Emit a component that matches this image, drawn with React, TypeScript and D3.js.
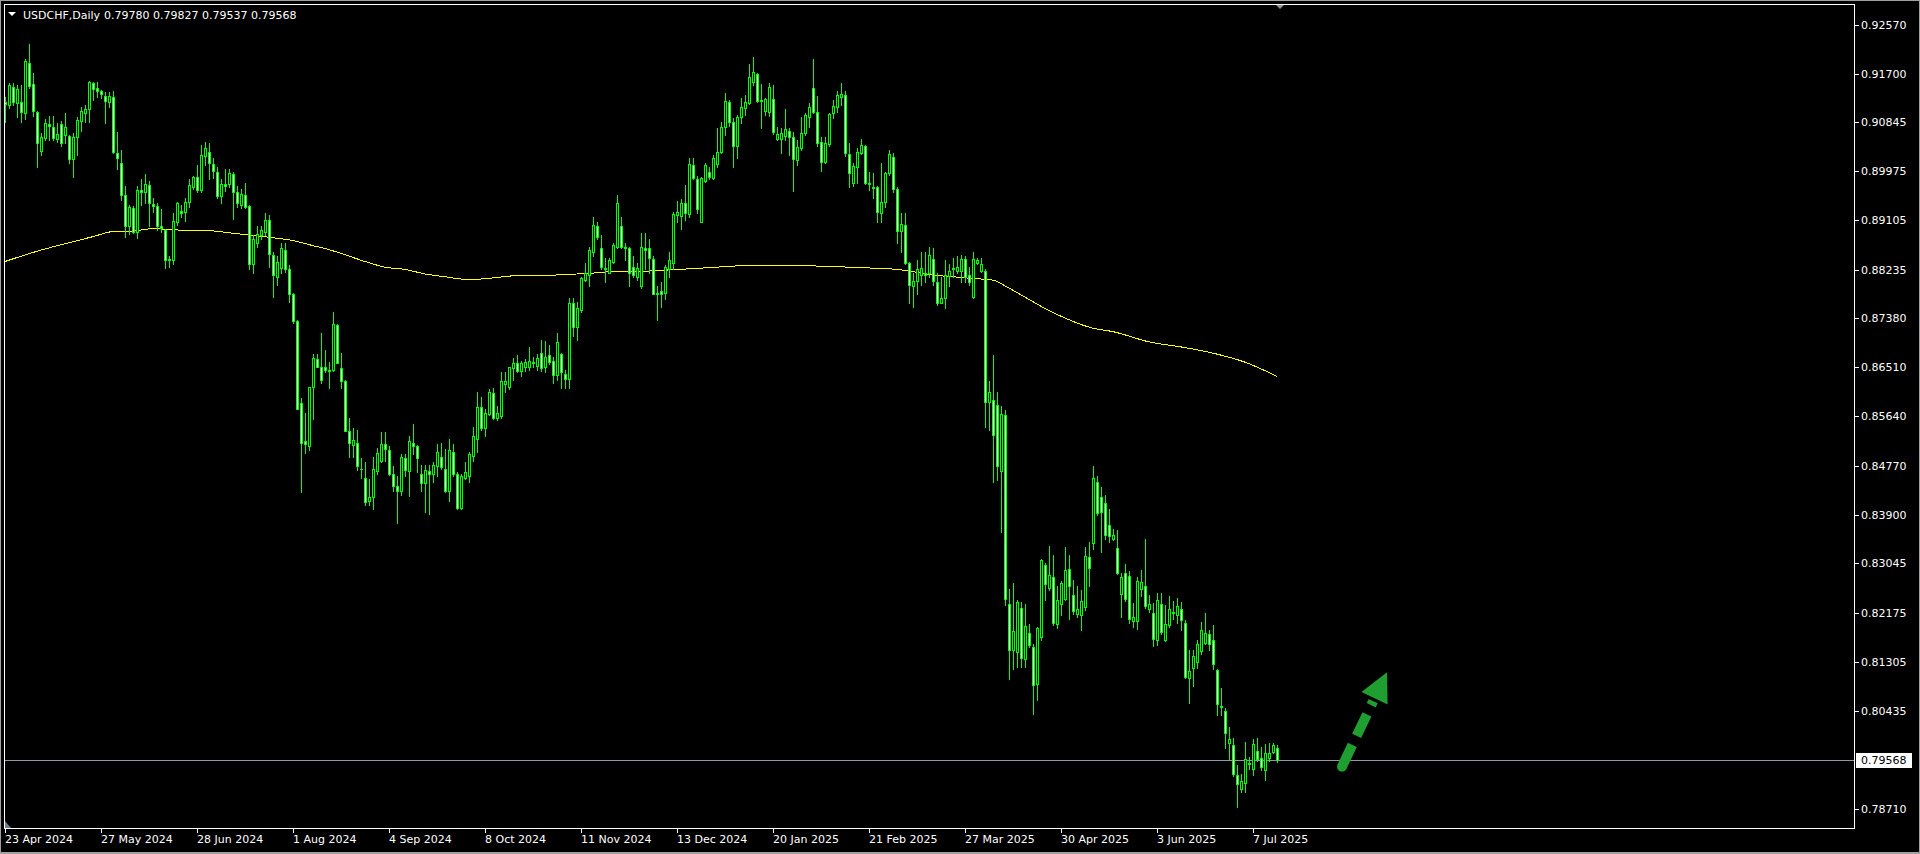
import React from "react";
import * as d3 from "d3";

const symbolTitle = "USDCHF,Daily";
const lastQuote = ["0.79780", "0.79827", "0.79537", "0.79568"];

const opens = [
0.9120,0.9115,0.9147,0.9118,0.9120,0.9101,0.9189,0.9152,0.9103,0.9034,
0.9057,0.9081,0.9076,0.9055,0.9081,0.9062,0.9060,0.9020,0.9058,0.9087,
0.9101,0.9108,0.9154,0.9145,0.9140,0.9131,0.9120,0.9129,0.9030,0.9013,
0.8956,0.8900,0.8933,0.8891,0.8965,0.8960,0.8974,0.8940,0.8937,0.8900,
0.8894,0.8843,0.8840,0.8908,0.8928,0.8926,0.8944,0.8970,0.8988,0.8965,
0.9025,0.9032,0.9011,0.8997,0.8953,0.8975,0.8975,0.8993,0.8960,0.8938,
0.8956,0.8937,0.8833,0.8871,0.8885,0.8891,0.8912,0.8850,0.8811,0.8827,
0.8859,0.8825,0.8780,0.8732,0.8587,0.8520,0.8511,0.8617,0.8665,0.8652,
0.8651,0.8647,0.8647,0.8725,0.8649,0.8626,0.8538,0.8513,0.8518,0.8472,
0.8456,0.8414,0.8421,0.8467,0.8486,0.8515,0.8504,0.8462,0.8441,0.8433,
0.8490,0.8467,0.8518,0.8511,0.8463,0.8446,0.8467,0.8462,0.8476,0.8493,
0.8472,0.8432,0.8501,0.8462,0.8403,0.8456,0.8458,0.8495,0.8525,0.8580,
0.8543,0.8569,0.8605,0.8561,0.8564,0.8621,0.8617,0.8649,0.8659,0.8645,
0.8652,0.8652,0.8661,0.8654,0.8677,0.8651,0.8672,0.8663,0.8638,0.8674,
0.8640,0.8631,0.8764,0.8723,0.8753,0.8806,0.8815,0.8854,0.8901,0.8861,
0.8827,0.8818,0.8838,0.8864,0.8901,0.8864,0.8862,0.8829,0.8811,0.8794,
0.8862,0.8861,0.8843,0.8783,0.8785,0.8783,0.8825,0.8836,0.8921,0.8919,
0.8942,0.8922,0.9009,0.8983,0.8908,0.8981,0.8997,0.8986,0.9011,0.9032,
0.9076,0.9120,0.9085,0.9043,0.9094,0.9110,0.9118,0.9156,0.9170,0.9124,
0.9104,0.9103,0.9126,0.9055,0.9055,0.9060,0.9069,0.9058,0.9018,0.9039,
0.9066,0.9094,0.9145,0.9103,0.9050,0.9014,0.9046,0.9101,0.9111,0.9129,
0.9133,0.9028,0.8977,0.9005,0.9030,0.9043,0.8977,0.8970,0.8970,0.8924,
0.8944,0.8995,0.9023,0.8967,0.8892,0.8903,0.8836,0.8794,0.8804,0.8815,
0.8818,0.8818,0.8843,0.8802,0.8765,0.8774,0.8813,0.8827,0.8822,0.8822,
0.8843,0.8815,0.8776,0.8836,0.8822,0.8822,0.8589,0.8594,0.8585,0.8467,
0.8566,0.8232,0.8151,0.8147,0.8225,0.8135,0.8181,0.8156,0.8091,0.8174,
0.8301,0.8260,0.8280,0.8197,0.8232,0.8241,0.8294,0.8248,0.8215,0.8213,
0.8227,0.8315,0.8340,0.8449,0.8421,0.8411,0.8373,0.8347,0.8331,0.8250,
0.8287,0.8282,0.8202,0.8202,0.8259,0.8264,0.8223,0.8216,0.8169,0.8232,
0.8169,0.8195,0.8218,0.8213,0.8223,0.8199,0.8102,0.8119,0.8130,0.8149,
0.8163,0.8179,0.8169,0.8116,0.8052,0.8043,0.7987,0.7983,0.7930,0.7906,
0.7916,0.7950,0.7941,0.7973,0.7960,0.7939,0.7960,0.7971,0.79780
];

const highs = [
0.9129,0.9154,0.9154,0.9150,0.9150,0.9196,0.9223,0.9171,0.9104,0.9066,
0.9090,0.9096,0.9096,0.9083,0.9087,0.9101,0.9062,0.9066,0.9094,0.9111,
0.9115,0.9157,0.9156,0.9156,0.9141,0.9138,0.9138,0.9140,0.9067,0.9035,
0.8972,0.8938,0.8937,0.8972,0.8983,0.8993,0.8981,0.8951,0.8942,0.8931,
0.8896,0.8847,0.8924,0.8944,0.8938,0.8951,0.8983,0.8990,0.9009,0.9044,
0.9050,0.9048,0.9021,0.9005,0.8984,0.9002,0.9002,0.8997,0.8972,0.8967,
0.8977,0.8938,0.8885,0.8900,0.8901,0.8924,0.8921,0.8854,0.8847,0.8871,
0.8871,0.8831,0.8783,0.8734,0.8596,0.8571,0.8617,0.8674,0.8674,0.8712,
0.8681,0.8661,0.8748,0.8727,0.8677,0.8628,0.8561,0.8543,0.8541,0.8490,
0.8483,0.8453,0.8493,0.8508,0.8536,0.8536,0.8511,0.8476,0.8458,0.8497,
0.8497,0.8529,0.8550,0.8513,0.8478,0.8479,0.8479,0.8483,0.8515,0.8518,
0.8506,0.8524,0.8516,0.8465,0.8462,0.8483,0.8501,0.8545,0.8608,0.8598,
0.8577,0.8612,0.8614,0.8582,0.8642,0.8642,0.8652,0.8668,0.8672,0.8663,
0.8665,0.8686,0.8670,0.8674,0.8700,0.8697,0.8691,0.8670,0.8711,0.8677,
0.8647,0.8774,0.8774,0.8767,0.8811,0.8836,0.8864,0.8917,0.8908,0.8885,
0.8845,0.8845,0.8871,0.8956,0.8916,0.8871,0.8864,0.8847,0.8836,0.8889,
0.8889,0.8878,0.8847,0.8795,0.8802,0.8831,0.8854,0.8926,0.8945,0.8949,
0.8974,0.9021,0.9021,0.8990,0.8988,0.9013,0.9005,0.9027,0.9074,0.9085,
0.9136,0.9124,0.9092,0.9097,0.9127,0.9133,0.9187,0.9200,0.9171,0.9152,
0.9127,0.9154,0.9150,0.9076,0.9074,0.9108,0.9074,0.9067,0.9053,0.9094,
0.9101,0.9118,0.9196,0.9131,0.9058,0.9058,0.9101,0.9124,0.9140,0.9154,
0.9140,0.9048,0.9013,0.9039,0.9055,0.9044,0.8997,0.8995,0.8972,0.9013,
0.8997,0.9035,0.9030,0.8970,0.8924,0.8924,0.8838,0.8818,0.8841,0.8854,
0.8854,0.8864,0.8862,0.8818,0.8810,0.8841,0.8834,0.8845,0.8848,0.8850,
0.8847,0.8829,0.8855,0.8845,0.8845,0.8824,0.8626,0.8672,0.8607,0.8583,
0.8575,0.8259,0.8269,0.8239,0.8236,0.8232,0.8197,0.8161,0.8192,0.8312,
0.8305,0.8335,0.8319,0.8264,0.8273,0.8333,0.8319,0.8275,0.8264,0.8257,
0.8333,0.8342,0.8476,0.8458,0.8439,0.8425,0.8400,0.8365,0.8363,0.8287,
0.8303,0.8290,0.8234,0.8280,0.8292,0.8348,0.8248,0.8234,0.8252,0.8252,
0.8230,0.8246,0.8237,0.8243,0.8236,0.8204,0.8151,0.8151,0.8169,0.8200,
0.8216,0.8186,0.8195,0.8117,0.8084,0.8048,0.8015,0.7996,0.7948,0.7932,
0.7989,0.7962,0.7994,0.7996,0.7980,0.7985,0.7987,0.7987,0.79827
];

const lows = [
0.9085,0.9110,0.9115,0.9094,0.9085,0.9090,0.9145,0.9096,0.9005,0.9027,
0.9053,0.9053,0.9053,0.9050,0.9043,0.9048,0.9013,0.8988,0.9027,0.9069,
0.9085,0.9085,0.9124,0.9129,0.9127,0.9083,0.9111,0.9030,0.9002,0.8947,
0.8882,0.8887,0.8889,0.8880,0.8938,0.8942,0.8900,0.8926,0.8894,0.8891,
0.8827,0.8829,0.8833,0.8903,0.8917,0.8910,0.8935,0.8967,0.8961,0.8961,
0.9009,0.8984,0.8986,0.8951,0.8942,0.8963,0.8970,0.8914,0.8935,0.8933,
0.8933,0.8824,0.8818,0.8864,0.8878,0.8885,0.8829,0.8776,0.8797,0.8818,
0.8820,0.8767,0.8730,0.8577,0.8430,0.8499,0.8504,0.8559,0.8651,0.8624,
0.8642,0.8615,0.8644,0.8658,0.8615,0.8538,0.8493,0.8493,0.8469,0.8455,
0.8407,0.8407,0.8400,0.8462,0.8483,0.8485,0.8460,0.8432,0.8375,0.8426,
0.8458,0.8423,0.8497,0.8465,0.8432,0.8395,0.8391,0.8448,0.8458,0.8471,
0.8430,0.8414,0.8458,0.8400,0.8400,0.8453,0.8448,0.8486,0.8501,0.8541,
0.8529,0.8566,0.8559,0.8557,0.8562,0.8607,0.8612,0.8629,0.8642,0.8635,
0.8644,0.8647,0.8652,0.8647,0.8645,0.8642,0.8656,0.8624,0.8629,0.8615,
0.8615,0.8615,0.8707,0.8700,0.8748,0.8804,0.8794,0.8847,0.8877,0.8824,
0.8801,0.8817,0.8836,0.8862,0.8862,0.8841,0.8795,0.8811,0.8806,0.8792,
0.8824,0.8818,0.8780,0.8734,0.8758,0.8771,0.8811,0.8824,0.8907,0.8896,
0.8912,0.8916,0.8983,0.8924,0.8907,0.8979,0.8983,0.8984,0.9005,0.9030,
0.9062,0.9078,0.9005,0.9021,0.9083,0.9097,0.9117,0.9150,0.9120,0.9074,
0.9097,0.9096,0.9064,0.9053,0.9030,0.9053,0.9027,0.8963,0.9009,0.9035,
0.9062,0.9076,0.9101,0.9043,0.8998,0.9013,0.9043,0.9092,0.9103,0.9115,
0.9025,0.8970,0.8972,0.8977,0.9028,0.8975,0.8965,0.8951,0.8908,0.8908,
0.8935,0.8991,0.8960,0.8871,0.8854,0.8833,0.8765,0.8758,0.8780,0.8797,
0.8801,0.8811,0.8797,0.8762,0.8764,0.8755,0.8794,0.8810,0.8818,0.8801,
0.8801,0.8797,0.8774,0.8833,0.8820,0.8545,0.8541,0.8449,0.8451,0.8359,
0.8230,0.8100,0.8117,0.8121,0.8121,0.8121,0.8156,0.8038,0.8063,0.8169,
0.8239,0.8257,0.8195,0.8190,0.8213,0.8239,0.8206,0.8215,0.8209,0.8186,
0.8222,0.8264,0.8329,0.8389,0.8324,0.8347,0.8342,0.8345,0.8285,0.8209,
0.8237,0.8199,0.8192,0.8188,0.8246,0.8225,0.8218,0.8158,0.8160,0.8179,
0.8167,0.8192,0.8206,0.8199,0.8186,0.8102,0.8057,0.8087,0.8119,0.8144,
0.8162,0.8151,0.8117,0.8037,0.8037,0.7978,0.7959,0.7929,0.7874,0.7900,
0.7900,0.7941,0.7930,0.7955,0.7939,0.7922,0.7955,0.7969,0.79537
];

const closes = [
0.9117,0.9150,0.9120,0.9143,0.9103,0.9193,0.9149,0.9104,0.9048,0.9058,
0.9083,0.9078,0.9057,0.9064,0.9048,0.9076,0.9020,0.9058,0.9088,0.9104,
0.9108,0.9156,0.9143,0.9140,0.9134,0.9122,0.9131,0.9032,0.9021,0.8956,
0.8900,0.8935,0.8891,0.8965,0.8960,0.8975,0.8942,0.8937,0.8900,0.8898,
0.8841,0.8840,0.8910,0.8942,0.8924,0.8944,0.8974,0.8988,0.8965,0.9027,
0.9039,0.9013,0.8998,0.8954,0.8975,0.8972,0.8995,0.8960,0.8942,0.8958,
0.8935,0.8833,0.8877,0.8887,0.8894,0.8912,0.8852,0.8815,0.8838,0.8861,
0.8825,0.8780,0.8732,0.8578,0.8518,0.8515,0.8617,0.8667,0.8652,0.8629,
0.8647,0.8645,0.8727,0.8659,0.8626,0.8539,0.8518,0.8522,0.8476,0.8471,
0.8412,0.8421,0.8472,0.8499,0.8516,0.8506,0.8462,0.8441,0.8432,0.8493,
0.8469,0.8520,0.8511,0.8490,0.8446,0.8469,0.8463,0.8478,0.8501,0.8474,
0.8432,0.8504,0.8462,0.8403,0.8458,0.8465,0.8497,0.8529,0.8580,0.8543,
0.8571,0.8607,0.8562,0.8571,0.8626,0.8626,0.8652,0.8659,0.8645,0.8659,
0.8661,0.8663,0.8659,0.8667,0.8649,0.8670,0.8661,0.8638,0.8695,0.8642,
0.8631,0.8765,0.8723,0.8755,0.8808,0.8817,0.8859,0.8903,0.8882,0.8829,
0.8824,0.8841,0.8868,0.8942,0.8864,0.8862,0.8818,0.8815,0.8827,0.8864,
0.8859,0.8845,0.8781,0.8781,0.8781,0.8829,0.8841,0.8922,0.8926,0.8942,
0.8924,0.9011,0.8986,0.8930,0.8986,0.9009,0.8988,0.9021,0.9032,0.9076,
0.9122,0.9085,0.9043,0.9094,0.9111,0.9120,0.9164,0.9173,0.9122,0.9122,
0.9126,0.9147,0.9067,0.9064,0.9066,0.9073,0.9058,0.9020,0.9041,0.9066,
0.9097,0.9111,0.9103,0.9048,0.9014,0.9048,0.9099,0.9113,0.9133,0.9134,
0.9030,0.8995,0.9007,0.9032,0.9044,0.8977,0.8975,0.8968,0.8926,0.8944,
0.8995,0.9028,0.8967,0.8892,0.8905,0.8836,0.8797,0.8804,0.8825,0.8827,
0.8815,0.8850,0.8804,0.8765,0.8774,0.8815,0.8822,0.8824,0.8829,0.8843,
0.8811,0.8801,0.8843,0.8841,0.8833,0.8589,0.8607,0.8532,0.8476,0.8569,
0.8241,0.8151,0.8185,0.8236,0.8137,0.8193,0.8160,0.8089,0.8190,0.8310,
0.8268,0.8283,0.8199,0.8239,0.8269,0.8292,0.8264,0.8220,0.8223,0.8237,
0.8317,0.8296,0.8456,0.8393,0.8396,0.8354,0.8352,0.8354,0.8287,0.8280,
0.8241,0.8206,0.8209,0.8273,0.8271,0.8229,0.8232,0.8170,0.8239,0.8183,
0.8197,0.8223,0.8216,0.8229,0.8204,0.8103,0.8114,0.8140,0.8162,0.8186,
0.8181,0.8162,0.8126,0.8056,0.8050,0.8004,0.7994,0.7932,0.7914,0.7920,
0.7959,0.7952,0.7985,0.7959,0.7944,0.7969,0.7969,0.7983,0.79568
];

// Moving average (yellow), read at sampled bars
const maBars = [0,7,12,17,22,27,32,37,42,47,52,57,62,67,72,77,81,85,90,95,100,105,110,116,122,128,134,140,146,152,158,163,171,178,186,196,203,211,218,223,227,232,237,242,247,250,253,256,260,265,272,277,286,294,302,310,318];
const maValues = [0.8838,0.8854,0.8864,0.8873,0.8882,0.8891,0.8892,0.8896,0.8894,0.8893,0.8892,0.8888,0.8884,0.8880,0.8875,0.8866,0.8859,0.8850,0.8838,0.8828,0.8824,0.8816,0.8811,0.8806,0.8809,0.8813,0.8813,0.8815,0.8817,0.8820,0.8820,0.8822,0.8825,0.8828,0.8831,0.8831,0.8830,0.8828,0.8826,0.8824,0.8820,0.8814,0.8811,0.8808,0.8805,0.8795,0.8783,0.8771,0.8755,0.8738,0.8720,0.8714,0.8696,0.8687,0.8676,0.8660,0.8635];

const priceTicks = [0.92570,0.91700,0.90845,0.89975,0.89105,0.88235,0.87380,0.86510,0.85640,0.84770,0.83900,0.83045,0.82175,0.81305,0.80435,0.78710];
const priceTickLabels = ["0.92570","0.91700","0.90845","0.89975","0.89105","0.88235","0.87380","0.86510","0.85640","0.84770","0.83900","0.83045","0.82175","0.81305","0.80435","0.78710"];
const currentPrice = 0.79568;
const currentPriceLabel = "0.79568";

const dateLabels = ["23 Apr 2024","27 May 2024","28 Jun 2024","1 Aug 2024","4 Sep 2024","8 Oct 2024","11 Nov 2024","13 Dec 2024","20 Jan 2025","21 Feb 2025","27 Mar 2025","30 Apr 2025","3 Jun 2025","7 Jul 2025"];
const dateBars = [0,24,48,72,96,120,144,168,192,216,240,264,288,312];

// hand-drawn arrow annotation (bar index, price)
const arrowTail = { bar: 334.25, price: 0.7945 };
const arrowTip = { bar: 345.5, price: 0.8112 };

const FONT = "'DejaVu Sans', Tahoma, sans-serif";
const LIME = "#00ff00";

export default function App() {
  const n = opens.length;
  const x = d3.scaleLinear().domain([0, n - 1]).range([5, 5 + 4 * (n - 1)]);
  const y = d3
    .scaleLinear()
    .domain([priceTicks[0], priceTicks[priceTicks.length - 1]])
    .range([24.5, 808.5]);

  const frame = { left: 4, top: 4, right: 1854, bottom: 828 };

  const candles = opens.map((o, i) => {
    const c = closes[i];
    const h = Math.max(highs[i], o, c);
    const l = Math.min(lows[i], o, c);
    const cx = Math.round(x(i));
    const yH = Math.round(y(h));
    const yL = Math.round(y(l));
    const yO = Math.round(y(o));
    const yC = Math.round(y(c));
    const top = Math.min(yO, yC);
    const bot = Math.max(yO, yC);
    const bear = c < o;
    return (
      <g key={i}>
        <rect x={cx} y={yH} width={1} height={yL - yH + 1} fill={LIME} />
        <rect x={cx - 1} y={top} width={3} height={bot - top + 1} fill={LIME} />
        {bot - top >= 2 && (
          <rect x={cx} y={top + 1} width={1} height={bot - top - 1} fill={bear ? "#ffffff" : "#000000"} />
        )}
      </g>
    );
  });

  const maPath =
    d3
      .line<number>()
      .x((_, k) => x(maBars[k]))
      .y((d) => y(d))
      .curve(d3.curveMonotoneX)(maValues) || "";

  // arrow geometry
  const tx = x(arrowTail.bar), ty = y(arrowTail.price);
  const hx = x(arrowTip.bar), hy = y(arrowTip.price);
  const len = Math.hypot(hx - tx, hy - ty);
  const ux = (hx - tx) / len, uy = (hy - ty) / len;
  const headLen = 29, headHalf = 14.5;
  const bx = hx - ux * headLen, by = hy - uy * headLen;
  const px = -uy, py = ux;
  const shaftEndX = bx - ux * 3, shaftEndY = by - uy * 3;
  const arrowColor = "#1f9f2f";

  const cpY = Math.round(y(currentPrice));

  return (
    <>
      <style>{`html,body{margin:0;padding:0;background:#000;overflow:hidden}`}</style>
      <svg
        width={1920}
        height={854}
        style={{ position: "fixed", left: 0, top: 0, display: "block", background: "#000" }}
        fontFamily={FONT}
      >
        <rect x={0} y={0} width={1920} height={854} fill="#000" />
        {/* window edges */}
        <rect x={0} y={0} width={1920} height={1} fill="#a0a0a0" />
        <rect x={0} y={0} width={1} height={854} fill="#a0a0a0" />
        <rect x={1919} y={0} width={1} height={854} fill="#a0a0a0" />
        <rect x={0} y={852} width={1920} height={2} fill="#a0a0a0" />

        {/* moving average */}
        <path d={maPath} fill="none" stroke="#ffff00" strokeWidth={1} shapeRendering="crispEdges" />

        {/* current price line */}
        <rect x={frame.left + 1} y={cpY} width={frame.right - frame.left - 1} height={1} fill="#8c9aa8" />

        {/* candles */}
        <g shapeRendering="crispEdges">{candles}</g>

        {/* frame */}
        <rect
          x={frame.left + 0.5}
          y={frame.top + 0.5}
          width={frame.right - frame.left}
          height={frame.bottom - frame.top}
          fill="none"
          stroke="#ffffff"
          strokeWidth={1}
          shapeRendering="crispEdges"
        />

        {/* header */}
        <polygon points="8,12 16,12 12,16" fill="#ffffff" />
        <text x={23} y={19} fontSize={11} fill="#ffffff">
          {symbolTitle}
        </text>
        <text x={104} y={19} fontSize={11} fill="#ffffff" xmlSpace="preserve">
          {lastQuote.join(" ")}
        </text>

        {/* chart shift marker */}
        <polygon points="1276,5 1284,5 1280,9" fill="#909090" />
        {/* scroll marker */}
        <polygon points="5,821 5,828 11,828" fill="#708090" />

        {/* price axis */}
        {priceTicks.map((p, k) => {
          const ty2 = Math.round(y(p));
          return (
            <g key={k}>
              <rect x={frame.right + 1} y={ty2} width={4} height={1} fill="#ffffff" />
              <text x={1861} y={ty2 + 4} fontSize={11} fill="#ffffff">
                {priceTickLabels[k]}
              </text>
            </g>
          );
        })}
        <rect x={1856} y={cpY - 7} width={56} height={15} fill="#ffffff" />
        <text x={1861} y={cpY + 4} fontSize={11} fill="#000000">
          {currentPriceLabel}
        </text>

        {/* date axis */}
        {dateBars.map((b, k) => {
          const dx = Math.round(x(b));
          return (
            <g key={k}>
              <rect x={dx} y={frame.bottom + 1} width={1} height={4} fill="#ffffff" />
              <text x={dx} y={843} fontSize={11} fill="#ffffff">
                {dateLabels[k]}
              </text>
            </g>
          );
        })}

        {/* arrow annotation */}
        <line
          x1={tx}
          y1={ty}
          x2={shaftEndX}
          y2={shaftEndY}
          stroke={arrowColor}
          strokeWidth={10}
          strokeDasharray="24 10"
          strokeLinecap="butt"
        />
        <circle cx={tx} cy={ty} r={5} fill={arrowColor} />
        <polygon
          points={`${hx},${hy} ${bx + px * headHalf},${by + py * headHalf} ${bx - px * headHalf},${by - py * headHalf}`}
          fill={arrowColor}
        />
      </svg>
    </>
  );
}
